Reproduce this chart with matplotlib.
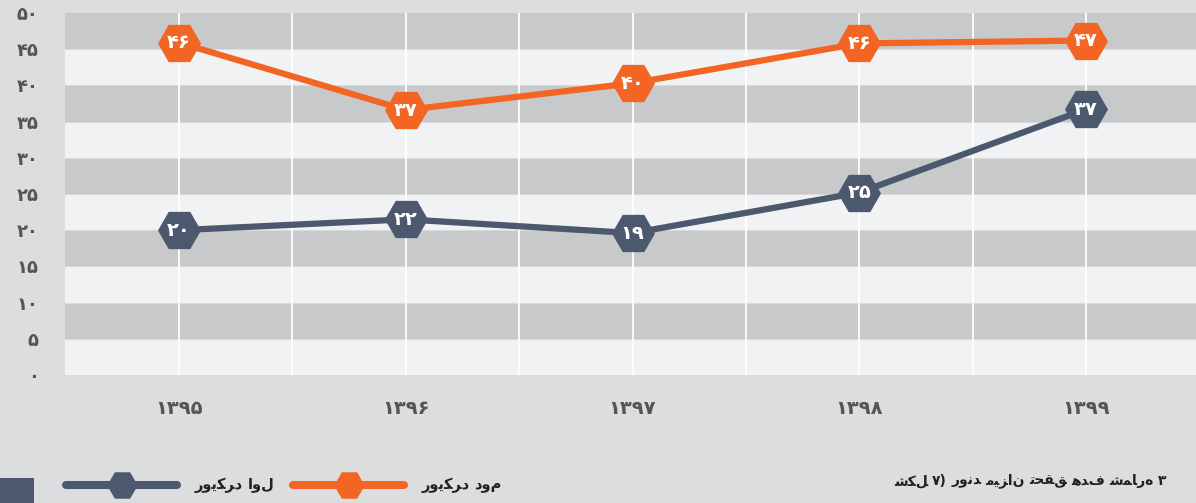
"""Line chart: progress toward target 3 (two approaches), Persian labels."""
import matplotlib
matplotlib.use("Agg")
import matplotlib.pyplot as plt
from matplotlib.lines import Line2D
from matplotlib.patches import Rectangle

plt.rcParams["font.family"] = ["DejaVu Sans"]

# data
years = ["۱۳۹۵", "۱۳۹۶", "۱۳۹۷", "۱۳۹۸", "۱۳۹۹"]
approach2 = [45.9, 36.6, 40.3, 45.8, 46.2]      # رویکرد دوم
approach2_labels = [46, 37, 40, 46, 47]
approach1 = [20.0, 21.5, 19.6, 25.2, 36.7]      # رویکرد اول
approach1_labels = [20, 22, 19, 25, 37]
yticks = [0, 5, 10, 15, 20, 25, 30, 35, 40, 45, 50]

ORANGE = "#f26522"
SLATE = "#4b586e"
BG = "#dcdddf"
DARK_BAND = "#c8c9cb"
LIGHT_BAND = "#f1f2f4"
TICK_COL = "#555555"

FA_DIGITS = "۰۱۲۳۴۵۶۷۸۹"


def fa_num(n):
    return "".join(FA_DIGITS[int(c)] for c in str(n))


# the text engine here reorders right-to-left runs but does not join letters,
# so map letters to presentation forms by hand
# (isolated, final, initial, medial); a 2-tuple means the letter joins only to the right
FORMS = {
    "ا": ("\uFE8D", "\uFE8E"),
    "د": ("\uFEA9", "\uFEAA"),
    "ر": ("\uFEAD", "\uFEAE"),
    "ز": ("\uFEAF", "\uFEB0"),
    "و": ("\uFEED", "\uFEEE"),
    "ت": ("\uFE95", "\uFE96", "\uFE97", "\uFE98"),
    "ح": ("\uFEA1", "\uFEA2", "\uFEA3", "\uFEA4"),
    "ش": ("\uFEB5", "\uFEB6", "\uFEB7", "\uFEB8"),
    "ف": ("\uFED1", "\uFED2", "\uFED3", "\uFED4"),
    "ق": ("\uFED5", "\uFED6", "\uFED7", "\uFED8"),
    "ل": ("\uFEDD", "\uFEDE", "\uFEDF", "\uFEE0"),
    "م": ("\uFEE1", "\uFEE2", "\uFEE3", "\uFEE4"),
    "ن": ("\uFEE5", "\uFEE6", "\uFEE7", "\uFEE8"),
    "ه": ("\uFEE9", "\uFEEA", "\uFEEB", "\uFEEC"),
    "ی": ("\uFBFC", "\uFBFD", "\uFBFE", "\uFBFF"),
    "ک": ("\uFB8E", "\uFB8F", "\uFB90", "\uFB91"),
}


def shape_word(word):
    out = []
    for i, ch in enumerate(word):
        if ch not in FORMS:
            out.append(ch)
            continue
        prev = word[i - 1] if i > 0 else ""
        nxt = word[i + 1] if i + 1 < len(word) else ""
        joins_prev = prev in FORMS and len(FORMS[prev]) == 4
        joins_next = len(FORMS[ch]) == 4 and nxt in FORMS
        f = FORMS[ch]
        if joins_prev and joins_next:
            out.append(f[3])
        elif joins_prev:
            out.append(f[1])
        elif joins_next:
            out.append(f[2])
        else:
            out.append(f[0])
    return "".join(out)


W, H = 1196, 503
fig = plt.figure(figsize=(W / 100, H / 100), dpi=100)
fig.patch.set_facecolor(BG)
renderer = fig.canvas.get_renderer()


def draw_words(text, x, y, ha="left", fontsize=10.5, **kw):
    # one text per word, laid out left to right as in the source image
    words = [shape_word(w) for w in text.split(" ")]
    gap = 0.3 * fontsize * 100 / 72
    widths = []
    for w in words:
        t = fig.text(0, 0, w, fontsize=fontsize, **kw)
        widths.append(t.get_window_extent(renderer).width)
        t.remove()
    total = sum(widths) + gap * (len(words) - 1)
    cur = x - total if ha == "right" else x
    for w, wd in zip(words, widths):
        fig.text(cur / W, 1 - y / H, w, fontsize=fontsize, ha="left", va="center", **kw)
        cur += wd + gap


left, right, top, bottom = 65, 1196, 13, 375
ax = fig.add_axes([left / W, 1 - bottom / H, (right - left) / W, (bottom - top) / H])
ax.set_facecolor(LIGHT_BAND)
ax.set_xlim(-0.503, 4.485)
ax.set_ylim(0, 50)

for y0 in range(5, 50, 10):
    ax.axhspan(y0, y0 + 5, color=DARK_BAND, lw=0, zorder=0)
for y in yticks[1:-1]:
    ax.axhline(y, color="#dadbdd", lw=0.8, zorder=0.5)
x = list(range(len(years)))
for xv in x + [v + 0.5 for v in x[:-1]]:
    ax.axvline(xv, color="white", lw=1.3, zorder=1)

ax.plot(x, approach2, color=ORANGE, lw=4.5, zorder=3)
ax.plot(x, approach1, color=SLATE, lw=4.5, zorder=3)
ax.plot(x, approach2, ls="none", marker="H", ms=31, color=ORANGE, mec="none", zorder=4)
ax.plot(x, approach1, ls="none", marker="H", ms=31, color=SLATE, mec="none", zorder=4)
for xi, v, lab in zip(x, approach2, approach2_labels):
    ax.text(xi, v, fa_num(lab), color="white", fontsize=14, fontweight="bold",
            ha="center", va="center", zorder=5)
for xi, v, lab in zip(x, approach1, approach1_labels):
    ax.text(xi, v, fa_num(lab), color="white", fontsize=14, fontweight="bold",
            ha="center", va="center", zorder=5)

for s in ax.spines.values():
    s.set_visible(False)
ax.set_yticks(yticks)
ax.set_yticklabels([fa_num(t) for t in yticks], fontsize=13, fontweight="bold", color=TICK_COL)
ax.set_xticks(x)
ax.set_xticklabels(years, fontsize=14, fontweight="bold", color=TICK_COL)
ax.tick_params(axis="y", length=0, pad=19)
ax.tick_params(axis="x", length=0, pad=17)

# legend drawn by hand
ly = 1 - 485 / H
fig.patches.append(Rectangle((0, 0), 34 / W, 25 / H, transform=fig.transFigure,
                             color=SLATE, lw=0))
for (x0, x1, col, label) in [(66, 177, SLATE, "رویکرد اول"),
                             (293, 404, ORANGE, "رویکرد دوم")]:
    fig.add_artist(Line2D([x0 / W, x1 / W], [ly, ly], color=col, lw=5.8,
                          solid_capstyle="round", transform=fig.transFigure))
    fig.add_artist(Line2D([(x0 + x1) / 2 / W], [ly], marker="H", ms=22, color=col,
                          mec="none", transform=fig.transFigure))
    draw_words(label, x1 + 18, 485, fontsize=10.5, fontweight="bold", color="#222222")

draw_words("شکل ۷) روند میزان تحقق هدف شماره ۳", 1166, 481, ha="right",
           fontsize=10, fontweight="bold", color="#222222")

fig.savefig("out.png", dpi=100, facecolor=BG)
